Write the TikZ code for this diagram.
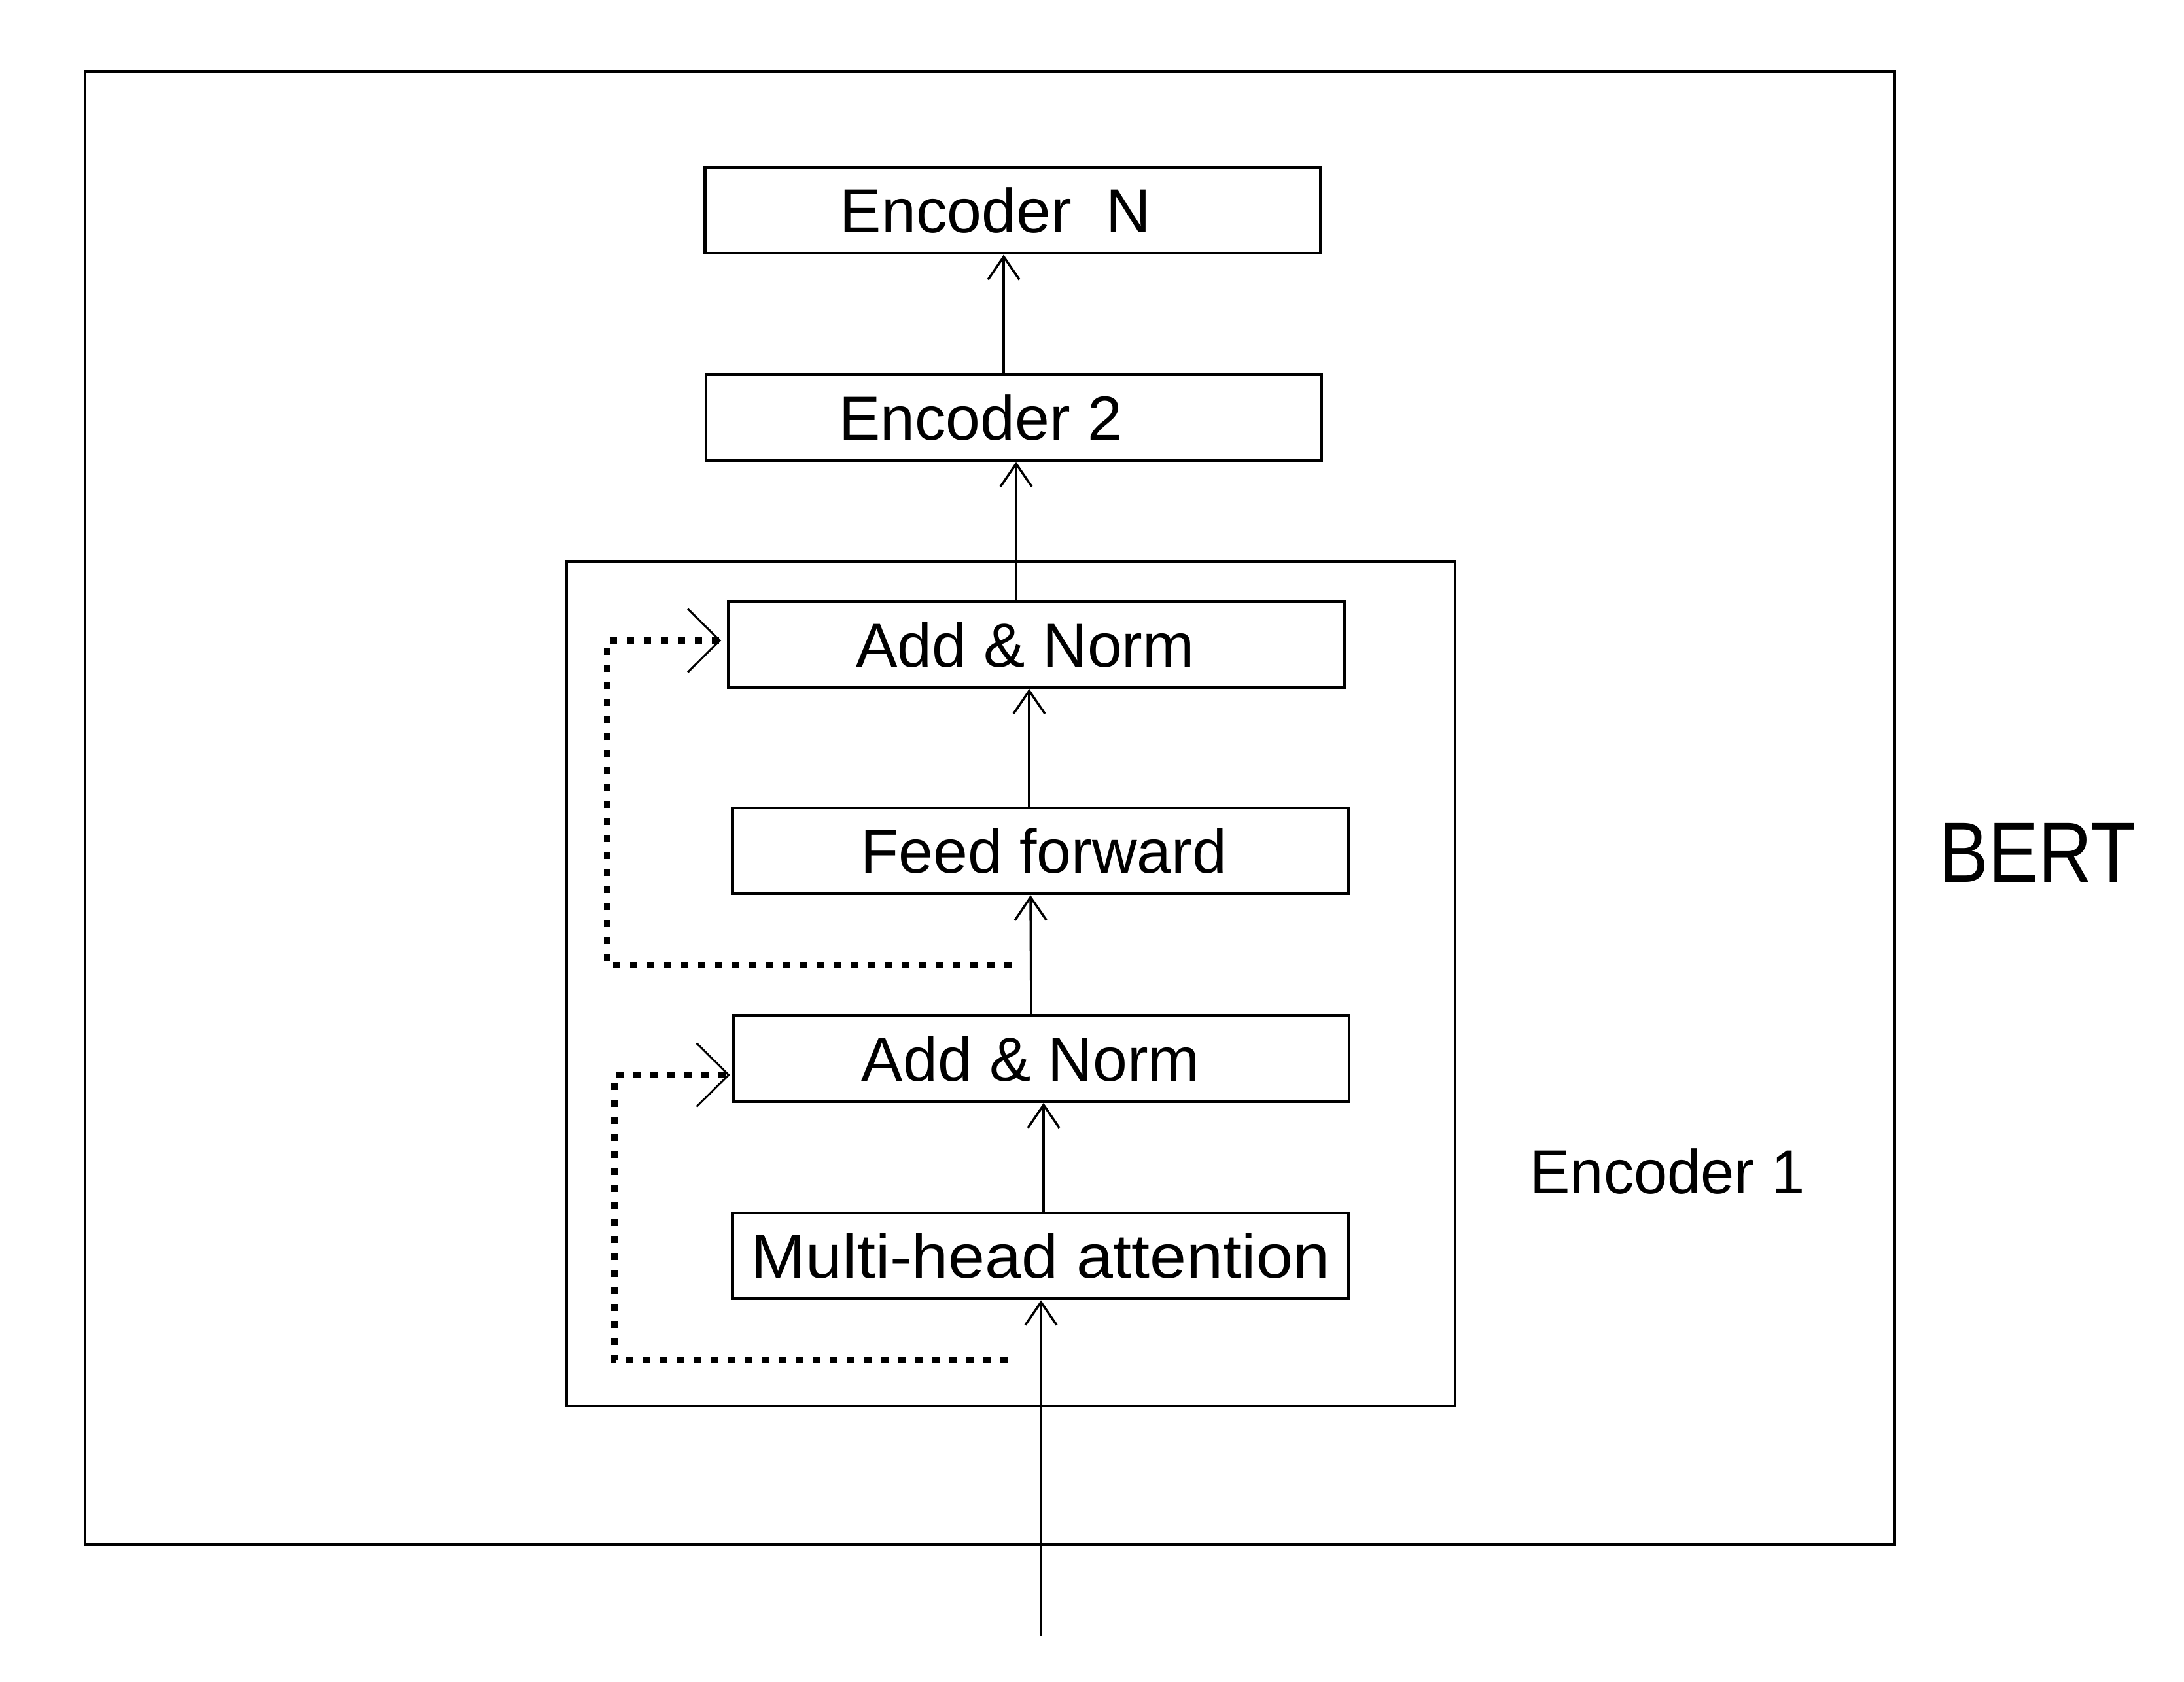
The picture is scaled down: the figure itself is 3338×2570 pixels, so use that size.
\documentclass[tikz,border=0pt]{standalone}
\usepackage{fontspec}
\setmainfont{Liberation Sans}
\usetikzlibrary{arrows.meta,calc}
\tikzset{
  box/.style={draw, line width=0.45pt, minimum width=94.1pt, minimum height=13.1pt, inner sep=0pt},
  txt/.style={font=\fontsize{9.5}{11}\selectfont, text height=6.8pt, text depth=0pt, inner sep=0pt},
  arr/.style={line width=0.35pt, -{Straight Barb[length=3.5pt,width=4.8pt]}},
  skipline/.style={line width=0.95pt, dash pattern=on 1.1pt off 1.5pt, -{Straight Barb[length=4.9pt,width=9.7pt,line width=0.3pt]}},
  frame/.style={draw, line width=0.42pt, inner sep=0pt}
}
\begin{document}
\begin{tikzpicture}[x=0.1pt,y=-0.1pt]
\useasboundingbox (0,0) rectangle (3338,2570);
% outer BERT frame and Encoder 1 frame
\node[frame, minimum width=276.6pt, minimum height=225.2pt] (bert) at (1513,1235) {};
\node[frame, minimum width=135.8pt, minimum height=129.1pt] (enc1) at (1545,1503.5) {};
% labels
\node[inner sep=0pt, font=\fontsize{13.1}{15}\selectfont, text height=9.4pt, text depth=0pt] (bertlbl) at (3114.5,1301) {\scalebox{0.87}[1]{BERT}};
\node[txt] (enc1lbl) at (2548.5,1790.5) {\scalebox{0.97}[1]{Encoder 1}};
% boxes
\node[box, label={[txt, xshift=-2.65pt]center:Encoder~~N}] (encN) at (1548,321.5) {};
\node[box, label={[txt, xshift=-5.1pt]center:Encoder 2}] (enc2) at (1549.5,638) {};
\node[box, label={[txt, xshift=-1.7pt]center:Add \& Norm}] (an2) at (1584,985) {};
\node[box, label={[txt, xshift=0.5pt]center:Feed forward}] (ff) at (1590.5,1300.5) {};
\node[box, label={[txt, xshift=-1.6pt]center:Add \& Norm}] (an1) at (1591.5,1618) {};
\node[box, label={[txt]center:\scalebox{1.06}[1]{Multi-head attention}}] (mha) at (1590,1919.5) {};
% input
\coordinate (in) at (1591,2500);
\draw[arr] (in) -- (in |- mha.south);
% main flow
\draw[arr] ($(mha.north)+(5,0)$) -- ($(an1.south)+(3.5,0)$);
\draw[arr] ($(an1.north)+(-15.5,0)$) -- ($(ff.south)+(-15.5,0)$);
\draw[arr] ($(ff.north)+(-17.5,0)$) -- ($(an2.south)+(-11,0)$);
\draw[arr] ($(an2.north)+(-31,0)$) -- ($(enc2.south)+(3.5,0)$);
\draw[arr] ($(enc2.north)+(-15.5,0)$) -- ($(encN.south)+(-14,0)$);
% residual connections
\coordinate (s1) at (1540,2079);
\coordinate (c1) at (939,1643);
\draw[skipline] (s1) -| (c1) -- ($(an1.west)+(-3,25)$);
\coordinate (s2) at (1546,1475);
\coordinate (c2) at (928,979);
\draw[skipline] (s2) -| (c2) -- ($(an2.west)+(-9,-6)$);
\end{tikzpicture}
\end{document}
